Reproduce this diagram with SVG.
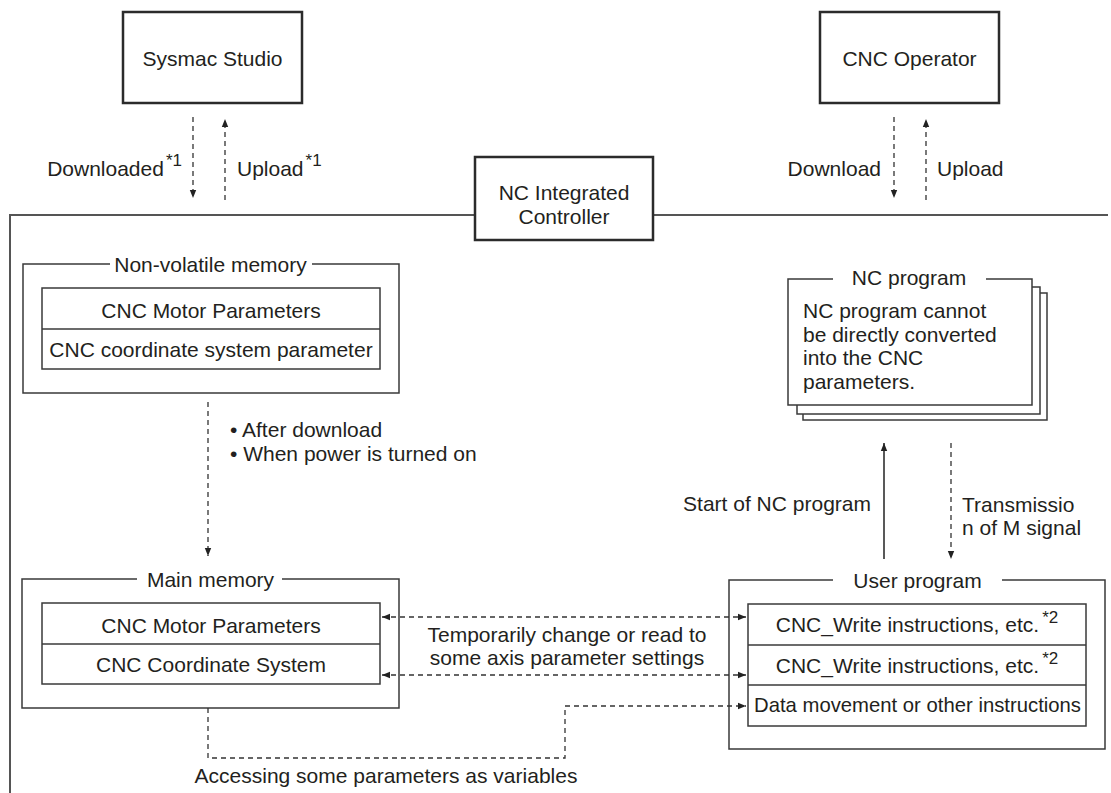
<svg xmlns="http://www.w3.org/2000/svg" width="1111" height="793" viewBox="0 0 1111 793">
  <style>
    .t { font-family: "Liberation Sans", Arial, Helvetica, sans-serif; font-size: 21px; fill: #231f20; }
    .sup { font-size: 17px; }
    .m { text-anchor: middle; }
    .e { text-anchor: end; }
    .ext { fill: #fff; stroke: #2b2b2b; stroke-width: 2.5; }
    .frame { fill: none; stroke: #555; stroke-width: 2; }
    .grp { fill: none; stroke: #3a3a3a; stroke-width: 1.5; }
    .cell { fill: #fff; stroke: #3a3a3a; stroke-width: 1.5; }
    .sheet { fill: #fff; stroke: #3a3a3a; stroke-width: 1.5; }
    .dash { fill: none; stroke: #333; stroke-width: 1.3; stroke-dasharray: 5 4; }
    .solid { fill: none; stroke: #222; stroke-width: 1.5; }
  </style>
  <defs>
    <marker id="arrow" viewBox="0 0 8 8" refX="8" refY="4" markerWidth="8" markerHeight="8" markerUnits="userSpaceOnUse" orient="auto-start-reverse">
      <path d="M0,0.8 L8,4 L0,7.2 z" fill="#222"/>
    </marker>
  </defs>

  <!-- controller boundary -->
  <g id="controller-frame">
    <path class="frame" d="M475,215 H10 V793"/>
    <path class="frame" d="M653,215 H1108"/>
  </g>

  <!-- external nodes -->
  <g id="sysmac-studio">
    <rect class="ext" x="123" y="12" width="179" height="91"/>
    <text class="t m" x="212.5" y="66">Sysmac Studio</text>
  </g>
  <g id="cnc-operator">
    <rect class="ext" x="820" y="12" width="179" height="91"/>
    <text class="t m" x="909.5" y="66">CNC Operator</text>
  </g>
  <g id="nc-integrated-controller">
    <rect class="ext" x="475" y="157" width="178" height="83"/>
    <text class="t m" x="564" y="200">NC Integrated</text>
    <text class="t m" x="564" y="224">Controller</text>
  </g>

  <!-- non-volatile memory -->
  <g id="non-volatile-memory">
    <path class="grp" d="M110,264 H23 V393 H399 V264 H312"/>
    <text class="t m" x="210.5" y="272">Non-volatile memory</text>
    <rect class="cell" x="42" y="288" width="338" height="81"/>
    <line class="grp" x1="42" y1="329" x2="380" y2="329"/>
    <text class="t m" x="211" y="318">CNC Motor Parameters</text>
    <text class="t m" x="211" y="357">CNC coordinate system parameter</text>
  </g>

  <!-- main memory -->
  <g id="main-memory">
    <path class="grp" d="M137,579 H22 V708 H399 V579 H282"/>
    <text class="t m" x="210.5" y="587">Main memory</text>
    <rect class="cell" x="42" y="603" width="338" height="81"/>
    <line class="grp" x1="42" y1="644" x2="380" y2="644"/>
    <text class="t m" x="211" y="633">CNC Motor Parameters</text>
    <text class="t m" x="211" y="672">CNC Coordinate System</text>
  </g>

  <!-- NC program (stacked sheets) -->
  <g id="nc-program">
    <rect class="sheet" x="803" y="293" width="244" height="127"/>
    <rect class="sheet" x="797" y="287" width="243" height="127"/>
    <rect x="788" y="279" width="244" height="126" fill="#fff"/>
    <path class="grp" d="M833,279 H788 V405 H1032 V279 H986"/>
    <text class="t m" x="909" y="285">NC program</text>
    <text class="t" x="803" y="318">NC program cannot</text>
    <text class="t" x="803" y="341.5">be directly converted</text>
    <text class="t" x="803" y="365">into the CNC</text>
    <text class="t" x="803" y="388.5">parameters.</text>
  </g>

  <!-- user program -->
  <g id="user-program">
    <path class="grp" d="M833,580 H729 V749 H1105 V580 H1002"/>
    <text class="t m" x="917.5" y="588">User program</text>
    <rect class="cell" x="748" y="604" width="338" height="122"/>
    <line class="grp" x1="748" y1="645" x2="1086" y2="645"/>
    <line class="grp" x1="748" y1="685" x2="1086" y2="685"/>
    <text class="t m" x="917" y="632">CNC_Write instructions, etc.<tspan class="sup" dx="3" dy="-9">*2</tspan></text>
    <text class="t m" x="917" y="673">CNC_Write instructions, etc.<tspan class="sup" dx="3" dy="-9">*2</tspan></text>
    <text class="t" x="754" y="712" textLength="327" lengthAdjust="spacingAndGlyphs">Data movement or other instructions</text>
  </g>

  <!-- connectors -->
  <g id="connectors">
    <line class="dash" x1="193" y1="117" x2="193" y2="198" marker-end="url(#arrow)"/>
    <line class="dash" x1="225" y1="200" x2="225" y2="119" marker-end="url(#arrow)"/>
    <line class="dash" x1="894" y1="117" x2="894" y2="198" marker-end="url(#arrow)"/>
    <line class="dash" x1="926" y1="200" x2="926" y2="119" marker-end="url(#arrow)"/>
    <line class="dash" x1="208" y1="402" x2="208" y2="556" marker-end="url(#arrow)"/>
    <line class="dash" x1="382" y1="617" x2="746" y2="617" marker-start="url(#arrow)" marker-end="url(#arrow)"/>
    <line class="dash" x1="382" y1="675" x2="746" y2="675" marker-start="url(#arrow)" marker-end="url(#arrow)"/>
    <polyline class="dash" points="208,708 208,758 565,758 565,706 746,706" marker-end="url(#arrow)"/>
    <line class="solid" x1="884" y1="559" x2="884" y2="443" marker-end="url(#arrow)"/>
    <line class="dash" x1="951" y1="443" x2="951" y2="559" marker-end="url(#arrow)"/>
  </g>

  <!-- connector labels -->
  <g id="connector-labels">
    <text class="t e" x="182" y="176">Downloaded<tspan class="sup" dx="2" dy="-10">*1</tspan></text>
    <text class="t" x="237" y="176">Upload<tspan class="sup" dx="2" dy="-10">*1</tspan></text>
    <text class="t e" x="881" y="176">Download</text>
    <text class="t" x="937" y="176">Upload</text>
    <text class="t" x="230" y="437">• After download</text>
    <text class="t" x="230" y="461">• When power is turned on</text>
    <text class="t m" x="567" y="642">Temporarily change or read to</text>
    <text class="t m" x="567" y="665">some axis parameter settings</text>
    <text class="t m" x="386" y="783">Accessing some parameters as variables</text>
    <text class="t e" x="871" y="511">Start of NC program</text>
    <text class="t" x="962" y="512">Transmissio</text>
    <text class="t" x="962" y="535">n of M signal</text>
  </g>
</svg>
